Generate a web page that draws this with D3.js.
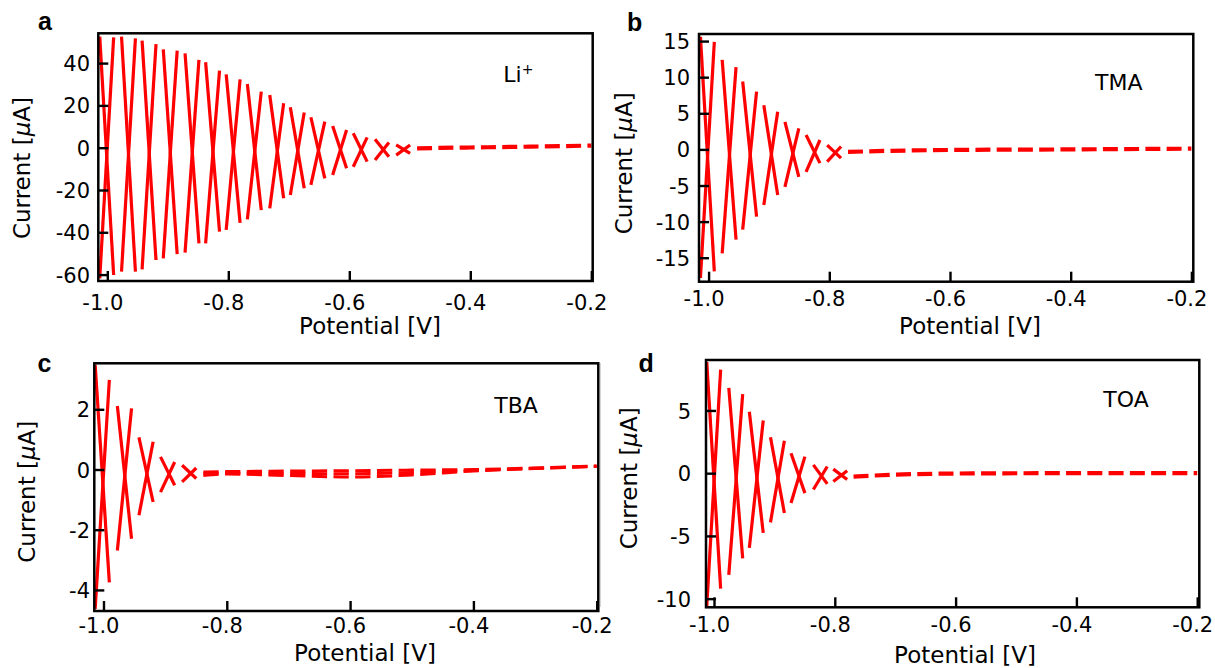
<!DOCTYPE html>
<html><head><meta charset="utf-8">
<script src="https://cdn.jsdelivr.net/npm/d3@7"></script>
<style>body{margin:0;background:#fff}svg{display:block}</style>
</head><body><svg id="chart" width="1215" height="668"></svg>
<script>
// ---------- shared axis data ----------
const xTickValues = [-1.0, -0.8, -0.6, -0.4, -0.2];
const xTickLabels = ["-1.0", "-0.8", "-0.6", "-0.4", "-0.2"];
const yTicksA = [-60, -40, -20, 0, 20, 40];
const yTicksB = [-15, -10, -5, 0, 5, 10, 15];
const yTicksC = [-4, -2, 0, 2];
const yTicksD = [-10, -5, 0, 5];
const panelLetters = ["a", "b", "c", "d"];
const ionLabels = ["Li", "TMA", "TBA", "TOA"];
const xTitle = "Potential [V]";
const yTitle = "Current [";

// ---------- panel a (Li+) ----------
const crossV_A = [-1.001, -0.965, -0.931, -0.896, -0.860, -0.826, -0.792, -0.757, -0.720, -0.686, -0.652, -0.616, -0.582, -0.546, -0.511];
const topL_A = [52.5, 52.5, 50.6, 46.5, 44.6, 40.4, 34.7, 30.1, 24.9, 19.1, 14.4, 10.3, 6.8, 4.0, 1.3];
const topR_A = [52.2, 51.7, 49.0, 45.9, 41.5, 36.4, 32.3, 26.5, 21.0, 16.6, 12.3, 8.4, 4.9, 2.4, 1.3];
const botL_A = [-61.8, -58.6, -57.5, -52.3, -49.6, -45.2, -38.9, -33.9, -28.7, -22.4, -17.6, -12.9, -9.0, -5.8, -3.5];
const botR_A = [-60.2, -58.6, -53.1, -50.3, -45.2, -39.7, -35.5, -29.5, -23.9, -19.2, -14.5, -9.7, -6.6, -4.3, -2.7];
const flatV_A = [-0.488, -0.45, -0.4, -0.3, -0.2];
const flatI_A = [-0.3, -0.1, 0.1, 0.5, 1.0];

// ---------- panel b (TMA) ----------
const crossV_B = [-1.002, -0.966, -0.932, -0.897, -0.862, -0.827, -0.792];
const topL_B = [15.6, 12.4, 9.4, 6.1, 3.8, 2.0, 0.6];
const topR_B = [14.9, 11.4, 8.0, 5.2, 2.9, 1.3, 0.4];
const botL_B = [-17.8, -14.4, -11.1, -7.7, -5.2, -3.1, -1.7];
const botR_B = [-16.9, -12.5, -9.3, -6.3, -3.8, -1.9, -1.2];
const flatV_B = [-0.769, -0.7, -0.6, -0.4, -0.2];
const flatI_B = [-0.35, -0.2, -0.08, 0.0, 0.1];

// ---------- panel c (TBA) ----------
const crossV_C = [-1.002, -0.966, -0.931, -0.896, -0.861];
const topL_C = [3.48, 2.11, 1.07, 0.42, 0.14];
const topR_C = [2.98, 2.03, 0.92, 0.25, 0.05];
const botL_C = [-4.63, -2.69, -1.52, -0.75, -0.41];
const botR_C = [-3.75, -2.30, -1.08, -0.52, -0.30];
const flatV_C = [-0.838, -0.8, -0.7, -0.6, -0.5, -0.4, -0.3, -0.2];
const flatI_C1 = [-0.08, -0.07, -0.05, -0.04, -0.02, 0.0, 0.05, 0.12];
const flatI_C2 = [-0.14, -0.12, -0.13, -0.14, -0.10, -0.03, 0.04, 0.11];
const flatI_C3 = [-0.20, -0.15, -0.20, -0.25, -0.18, -0.05, 0.03, 0.10];

// ---------- panel d (TOA) ----------
const crossV_D = [-1.0005, -0.964, -0.930, -0.895, -0.861, -0.824, -0.791];
const topL_D = [8.86, 6.8, 4.9, 2.86, 1.59, 0.66, 0.32];
const topR_D = [8.25, 6.3, 4.2, 2.59, 1.32, 0.53, 0.2];
const botL_D = [-10.6, -8.1, -5.95, -3.92, -2.38, -1.3, -0.66];
const botR_D = [-9.2, -6.8, -4.76, -3.17, -1.59, -0.85, -0.5];
const flatV_D = [-0.769, -0.7, -0.6, -0.4, -0.2];
const flatI_D = [-0.27, -0.12, -0.03, 0.0, 0.0];

// sweep geometry in volts
const halfArmV = 0.0115;
const dashV = 0.0248;
const periodV = 0.0352;

const RED = "#ff0000";
const FONT = "DejaVu Sans";
const svg = d3.select("#chart");

const panels = [
  {L: 98.3, T: 33.3, R: 592.7, B: 281, xDom: [-1.01488, -0.19769], yDom: [-63.03, 54.09], yTicks: yTicksA,
   crossV: crossV_A, topL: topL_A, topR: topR_A, botL: botL_A, botR: botR_A, flatV: flatV_A, flats: [flatI_A],
   xLabBase: 29, yLabGap: 8.3, letter: [38, 30], ion: [503.3, 81.7], sup: "+", xT: [370, 334], yT: [30, 168]},
  {L: 699, T: 34, R: 1193.3, B: 281.7, xDom: [-1.0159, -0.19685], yDom: [-18.32, 15.98], yTicks: yTicksB,
   crossV: crossV_B, topL: topL_B, topR: topR_B, botL: botL_B, botR: botR_B, flatV: flatV_B, flats: [flatI_B],
   xLabBase: 24.5, yLabGap: 9, letter: [627, 31], ion: [1095, 90], sup: "", xT: [970, 333.5], yT: [632, 163.3]},
  {L: 94.3, T: 363.3, R: 598.3, B: 611, xDom: [-1.0149, -0.19741], yDom: [-4.70, 3.528], yTicks: yTicksC,
   crossV: crossV_C, topL: topL_C, topR: topR_C, botL: botL_C, botR: botR_C, flatV: flatV_C, flats: [flatI_C1, flatI_C2, flatI_C3],
   xLabBase: 22.3, yLabGap: 4.3, letter: [37.5, 371.7], ion: [494.3, 413.3], sup: "", xT: [365, 661], yT: [35, 491.7]},
  {L: 706, T: 360, R: 1199.3, B: 607.3, xDom: [-1.01325, -0.19652], yDom: [-10.69, 9.02], yTicks: yTicksD,
   crossV: crossV_D, topL: topL_D, topR: topR_D, botL: botL_D, botR: botR_D, flatV: flatV_D, flats: [flatI_D],
   xLabBase: 24.4, yLabGap: 15, letter: [638.5, 371.7], ion: [1103.3, 406.7], sup: "", xT: [965, 663], yT: [637, 478.3]}
];

// faint scan border between lower panels
svg.append("line").attr("x1", 600.5).attr("x2", 600.5).attr("y1", 363).attr("y2", 607)
  .attr("stroke", "#d4d4d4").attr("stroke-width", 1);

panels.forEach((p, k) => {
  const g = svg.append("g");
  const x = d3.scaleLinear().domain(p.xDom).range([p.L, p.R]);
  const y = d3.scaleLinear().domain(p.yDom).range([p.B, p.T]);
  const line = d3.line().x(d => x(d[0])).y(d => y(d[1]));
  const pxPerV = (p.R - p.L) / (p.xDom[1] - p.xDom[0]);

  // oscillating sweeps: each cross = descending + ascending dash
  const arms = g.append("g").attr("fill", "none").attr("stroke", RED).attr("stroke-width", 3.2);
  p.crossV.forEach((v, i) => {
    arms.append("path").attr("d", line([[v - halfArmV, p.topL[i]], [v + halfArmV, p.botR[i]]]));
    arms.append("path").attr("d", line([[v - halfArmV, p.botL[i]], [v + halfArmV, p.topR[i]]]));
  });

  // flat dashed tail
  p.flats.forEach(fi => {
    const pts = p.flatV.map((v, j) => [v, fi[j]]);
    g.append("path").attr("d", d3.line().x(d => x(d[0])).y(d => y(d[1])).curve(d3.curveMonotoneX)(pts))
      .attr("fill", "none").attr("stroke", RED).attr("stroke-width", p.flats.length > 1 ? 3.0 : 4.2)
      .attr("stroke-dasharray", `${dashV * pxPerV} ${(periodV - dashV) * pxPerV}`);
  });

  // axes (inward ticks)
  const xa = g.append("g").attr("transform", `translate(0,${p.B})`)
    .call(d3.axisBottom(x).tickValues(xTickValues)
      .tickFormat(d => xTickLabels[xTickValues.indexOf(d)])
      .tickSizeInner(-10).tickSizeOuter(0));
  xa.select(".domain").remove();
  xa.selectAll("line").attr("stroke", "#000").attr("stroke-width", 2.4);
  xa.selectAll("text").attr("y", p.xLabBase).attr("dy", null).attr("dx", -5)
    .attr("font-size", 21).attr("font-family", FONT).attr("fill", "#000");

  const ya = g.append("g").attr("transform", `translate(${p.L},0)`)
    .call(d3.axisLeft(y).tickValues(p.yTicks).tickFormat(d => String(d))
      .tickSizeInner(-10).tickSizeOuter(0));
  ya.select(".domain").remove();
  ya.selectAll("line").attr("stroke", "#000").attr("stroke-width", 2.4);
  ya.selectAll("text").attr("x", -p.yLabGap).attr("dy", "0.36em")
    .attr("font-size", 21).attr("font-family", FONT).attr("fill", "#000");

  // frame
  g.append("rect").attr("x", p.L).attr("y", p.T).attr("width", p.R - p.L).attr("height", p.B - p.T)
    .attr("fill", "none").attr("stroke", "#000").attr("stroke-width", 2.5);

  // panel letter
  g.append("text").attr("x", p.letter[0]).attr("y", p.letter[1]).text(panelLetters[k])
    .attr("font-family", "Liberation Sans").attr("font-weight", "bold").attr("font-size", 25);

  // ion label
  const ion = g.append("text").attr("x", p.ion[0]).attr("y", p.ion[1])
    .attr("font-family", FONT).attr("font-size", 22).text(ionLabels[k]);
  if (p.sup) ion.append("tspan").attr("dy", -8).attr("font-size", 14).text(p.sup);

  // axis titles
  g.append("text").attr("x", p.xT[0]).attr("y", p.xT[1]).attr("text-anchor", "middle")
    .attr("font-family", FONT).attr("font-size", 23).text(xTitle);
  const yt = g.append("text").attr("transform", `translate(${p.yT[0]},${p.yT[1]}) rotate(-90)`)
    .attr("text-anchor", "middle").attr("font-family", FONT).attr("font-size", 23);
  yt.append("tspan").text(yTitle);
  yt.append("tspan").attr("font-style", "italic").text("\u03bc");
  yt.append("tspan").text("A]");
});
</script></body></html>
